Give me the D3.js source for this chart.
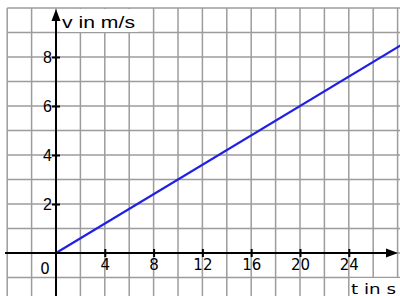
<!DOCTYPE html>
<html>
<head>
<meta charset="utf-8">
<script src="https://cdn.jsdelivr.net/npm/d3@7"></script>
<style>
  body { margin: 0; background: #fff; }
  svg { display: block; }
</style>
</head>
<body>
<svg width="400" height="296"></svg>
<script>
// v = 0.3 * t
let timeValues = [0, 30];
let speedValues = [0, 9];
let xTickLabels = [4, 8, 12, 16, 20, 24];
let yTickLabels = [2, 4, 6, 8];

let width = 400;
let height = 296;

let svg = d3.select("svg");

let xScale = d3.scaleLinear().domain([0, 28]).range([56, 397.6]);
let yScale = d3.scaleLinear().domain([0, 10]).range([253, 8]);

// grid
let grid = svg.append("g").attr("stroke", "#9c9c9c").attr("stroke-width", 1.5);

grid.selectAll(".vgrid")
  .data(d3.range(-4, 30, 2))
  .enter()
  .append("line")
  .attr("class", "vgrid")
  .attr("x1", d => xScale(d))
  .attr("x2", d => xScale(d))
  .attr("y1", yScale(10))
  .attr("y2", height);

grid.selectAll(".hgrid")
  .data(d3.range(-1, 11, 1))
  .enter()
  .append("line")
  .attr("class", "hgrid")
  .attr("x1", xScale(-4))
  .attr("x2", width)
  .attr("y1", d => yScale(d))
  .attr("y2", d => yScale(d));

// label boxes
svg.append("rect")
  .attr("x", 60).attr("y", 9)
  .attr("width", 78).attr("height", 23)
  .attr("fill", "#fff");

svg.append("rect")
  .attr("x", 350).attr("y", 278)
  .attr("width", 50).attr("height", 18)
  .attr("fill", "#fff");

// the line
let line = d3.line()
  .x(d => xScale(d[0]))
  .y(d => yScale(d[1]));

svg.append("path")
  .datum(d3.zip(timeValues, speedValues))
  .attr("d", line)
  .attr("fill", "none")
  .attr("stroke", "#2020e4")
  .attr("stroke-width", 2.2);

// axes
let x0 = xScale(0);
let y0 = yScale(0);

svg.append("line")
  .attr("x1", 5).attr("x2", 388)
  .attr("y1", y0).attr("y2", y0)
  .attr("stroke", "#000").attr("stroke-width", 2);

svg.append("path")
  .attr("d", `M${398},${y0} L${386},${y0 - 4.5} L${386},${y0 + 4.5} Z`)
  .attr("fill", "#000");

svg.append("line")
  .attr("x1", x0).attr("x2", x0)
  .attr("y1", 19).attr("y2", height)
  .attr("stroke", "#000").attr("stroke-width", 2);

svg.append("path")
  .attr("d", `M${x0},${9} L${x0 - 4.5},${21} L${x0 + 4.5},${21} Z`)
  .attr("fill", "#000");

// x ticks
let xAxis = d3.axisBottom(xScale)
  .tickValues(xTickLabels)
  .tickSize(4)
  .tickSizeOuter(0);

let xg = svg.append("g")
  .attr("transform", `translate(0,${y0 - 4})`)
  .call(xAxis);
xg.select(".domain").remove();
xg.selectAll(".tick line").attr("stroke", "#000").attr("stroke-width", 2).attr("y2", 8);
xg.selectAll(".tick text")
  .attr("y", 0)
  .attr("dy", 21)
  .style("font-family", "DejaVu Sans, Verdana, sans-serif")
  .style("font-size", "15px")
  .attr("fill", "#000");

svg.append("text")
  .attr("x", x0 - 11)
  .attr("y", 274)
  .attr("text-anchor", "middle")
  .style("font-family", "DejaVu Sans, Verdana, sans-serif")
  .style("font-size", "15px")
  .text("0");

// y ticks
let yAxis = d3.axisLeft(yScale)
  .tickValues(yTickLabels)
  .tickSize(4)
  .tickSizeOuter(0);

let yg = svg.append("g")
  .attr("transform", `translate(${x0 + 4},0)`)
  .call(yAxis);
yg.select(".domain").remove();
yg.selectAll(".tick line").attr("stroke", "#000").attr("stroke-width", 2).attr("x2", -8);
yg.selectAll(".tick text")
  .attr("x", -8)
  .attr("dy", "0.36em")
  .style("font-family", "Liberation Sans, Arial, sans-serif")
  .style("font-size", "16px")
  .attr("fill", "#000");

// axis titles
svg.append("text")
  .attr("x", 62)
  .attr("y", 28)
  .attr("textLength", 73)
  .attr("lengthAdjust", "spacingAndGlyphs")
  .style("font-family", "Liberation Sans, Arial, sans-serif")
  .style("font-size", "17px")
  .text("v in m/s");

svg.append("text")
  .attr("x", 351)
  .attr("y", 294)
  .attr("textLength", 45)
  .attr("lengthAdjust", "spacingAndGlyphs")
  .style("font-family", "DejaVu Sans, Verdana, sans-serif")
  .style("font-size", "14px")
  .text("t in s");
</script>
</body>
</html>
